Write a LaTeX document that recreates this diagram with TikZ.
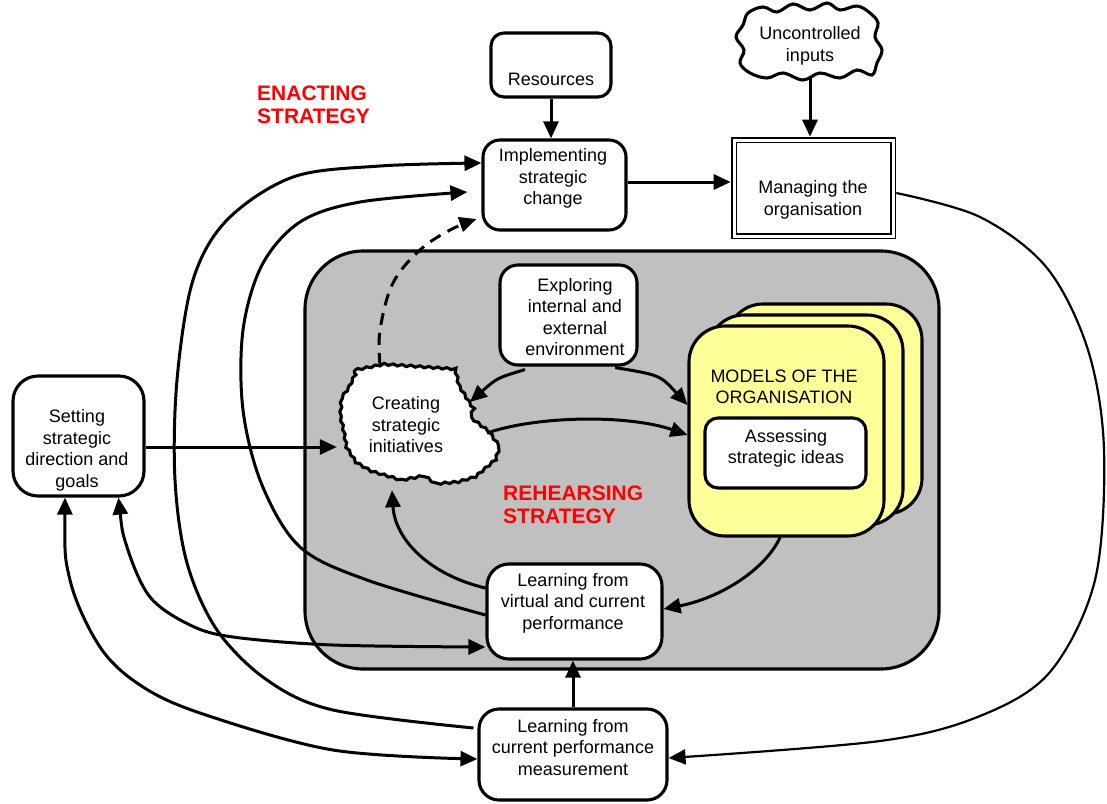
\documentclass[tikz,border=0pt]{standalone}
\usepackage{fontspec}
\setmainfont{Liberation Sans}
\usetikzlibrary{arrows.meta,decorations.pathmorphing}
\definecolor{greyfill}{RGB}{192,192,192}
\definecolor{cardyellow}{RGB}{255,255,153}
\begin{document}
\begin{tikzpicture}[x=1pt,y=-1pt,
  >={Triangle[length=17pt,width=15pt]},
  txt/.style={font=\fontsize{18}{21.5}\selectfont, align=center, inner sep=0pt},
  redlbl/.style={font=\bfseries\fontsize{21}{23}\selectfont, text=red, align=left, inner sep=0pt, anchor=west},
  boxsty/.style={draw, line width=3.1pt, fill=white, rectangle, inner sep=0pt},
  cardsty/.style={draw, line width=3.1pt, fill=cardyellow, rectangle, rounded corners=36pt, minimum width=195pt, minimum height=210pt, inner sep=0pt},
  conn/.style={line width=3pt, ->},
  cloudsty/.style={line width=3.1pt, fill=white},
]
\useasboundingbox (0,0) rectangle (1107,803);

% rehearsing area
\node[draw, line width=3.1pt, fill=greyfill, rounded corners=58pt, minimum width=634pt, minimum height=418pt, inner sep=0pt] (reh) at (622,460) {};

% models of the organisation (stack)
\node[cardsty] (mdl3) at (824.5,409) {};
\node[cardsty] (mdl2) at (805.5,420) {};
\node[cardsty] (mdl) at (786.5,431) {};
\node[txt] (mdlT) at (784,387) {MODELS OF THE\\ORGANISATION};
\node[boxsty, rounded corners=13pt, minimum width=161pt, minimum height=70pt] (ass) at (785.5,453) {};
\node[txt] (assT) at (786,448.5) {Assessing\\strategic ideas};

% boxes
\node[boxsty, rounded corners=13pt, minimum width=120pt, minimum height=64pt] (res) at (551,65) {};
\node[txt] (resT) at (551,79) {Resources};
\node[boxsty, rounded corners=17pt, minimum width=143pt, minimum height=90pt] (impl) at (554.5,185) {};
\node[txt] (implT) at (553,178.5) {Implementing\\strategic\\change};
\node[draw, fill=white, line width=1.8pt, double, double distance=3pt, minimum width=159pt, minimum height=96pt, outer sep=3.3pt, inner sep=0pt] (mng) at (813.5,188) {};
\node[txt] (mngT) at (813,200) {Managing the\\organisation};
\node[boxsty, rounded corners=25pt, minimum width=131pt, minimum height=120pt] (set) at (78.5,436) {};
\node[txt] (setT) at (77,450.5) {Setting\\strategic\\direction and\\goals};
\node[boxsty, rounded corners=18pt, minimum width=137pt, minimum height=100pt] (expl) at (568.5,315) {};
\node[txt] (explT) at (575,317) {Exploring\\internal and\\external\\environment};
\node[boxsty, rounded corners=22pt, minimum width=175pt, minimum height=95pt] (lv) at (574.5,611.5) {};
\node[txt] (lvT) at (573,603) {Learning from\\virtual and current\\performance};
\node[boxsty, rounded corners=20pt, minimum width=188pt, minimum height=91pt] (lc) at (573,754.5) {};
\node[txt] (lcT) at (573,747.5) {Learning from\\current performance\\measurement};

% uncontrolled inputs cloud
\node[minimum width=136pt, minimum height=70pt, inner sep=0pt] (unc) at (810,42) {};
\draw[cloudsty] plot[smooth cycle, tension=0.6] coordinates {
  (748,13) (763,7) (777,12) (793,4) (810,10) (827,3) (840,10) (857,6) (870,13)
  (878,23) (875,37) (882,50) (877,63) (872,75)
  (857,70) (840,78) (820,73) (803,80) (783,73) (767,78) (750,73)
  (740,63) (744,50) (736,37) (743,25)};
\node[txt] (uncT) at (810,46) {Uncontrolled\\inputs};

% creating strategic initiatives cloud
\node[minimum width=163pt, minimum height=123pt, inner sep=0pt] (cre) at (418.5,426.5) {};
\draw[cloudsty, decorate, decoration={snake, amplitude=0.9pt, segment length=9pt}]
  (355,370) -- (380,365) -- (453,370) -- (457,387) -- (467,403) -- (473,412) -- (470,420)
  -- (487,433) -- (497,447) -- (493,460) -- (473,477) -- (453,483) -- (430,485) -- (420,478)
  -- (400,482) -- (387,478) -- (370,473) -- (353,463) -- (343,447) -- (340,430) -- (337,417)
  -- (338,400) -- (347,387) -- cycle;
\node[txt] (creT) at (406,425) {Creating\\strategic\\initiatives};

% labels
\node[redlbl] (enact) at (257,104.5) {ENACTING\\STRATEGY};
\node[redlbl] (rehT) at (503,504.5) {REHEARSING\\STRATEGY};

% connectors
\draw[conn] (res.south) -- (res.south |- impl.north);
\draw[conn] (unc.south) -- (unc.south |- mng.north);
\draw[conn] ([yshift=3pt]impl.east) -- ([yshift=3pt]impl.east -| mng.west);
\draw[conn, line width=2.2pt] plot[smooth, tension=0.55] coordinates {([yshift=-5pt]mng.east) (980,217) (1047,268) (1088,350) (1104,450) (1095,580) (1050,672) (980,716) (880,741) ([yshift=-3.5pt]lc.east)};
\draw[conn] plot[smooth, tension=0.55] coordinates {([xshift=-4pt,yshift=26.5pt]lc.west) (333,710) (267,680) (217,630) (187,563) (175,480) (177,380) (193,280) (227,220) (293,177) (380,166) ([yshift=22pt]impl.west)};
\draw[conn] plot[smooth, tension=0.55] coordinates {([yshift=-3.5pt]lv.west) (367,580) (300,547) (262,485) (243,410) (243,330) (262,265) (300,222) (360,202) ([xshift=-14pt,yshift=-7pt]impl.west)};
\draw[conn, dash pattern=on 12pt off 8pt] plot[smooth, tension=0.6] coordinates {([xshift=-38.5pt]cre.north) (380,330) (393,283) (420,250) (450,230) ([xshift=-5pt,yshift=-34pt]impl.west)};
\draw[line width=3pt, <->] plot[smooth, tension=0.55] coordinates {([xshift=40pt]set.south) (127,547) (150,597) (190,625) (233,637) (333,645) ([yshift=-35.5pt]lv.west)};
\draw[line width=3pt, <->] plot[smooth, tension=0.55] coordinates {([xshift=-13.5pt]set.south) (70,580) (100,647) (140,685) (200,713) (333,750) ([yshift=-4.5pt]lc.west)};
\draw[conn] ([yshift=-11pt]set.east) -- ([yshift=-11pt]set.east -| cre.west);
\draw[conn] ([yshift=23.5pt]lv.west) .. controls (430,575) and (395,540) .. ([xshift=-26.5pt,yshift=-2pt]cre.south);
\draw[conn] ([xshift=-43.5pt,yshift=-3pt]expl.south) .. controls (497,378) .. ([xshift=51.5pt,yshift=24.5pt]cre.center);
\draw[conn] ([xshift=46.5pt,yshift=-1pt]expl.south) .. controls (660,375) .. ([yshift=26pt]mdl.west);
\draw[conn] ([xshift=68.5pt,yshift=-6.5pt]cre.center) .. controls (540,415) and (630,415) .. ([yshift=-4pt]mdl.west);
\draw[conn] ([xshift=-6.5pt]mdl.south) .. controls (765,570) and (720,598) .. ([yshift=2.5pt]lv.east);
\draw[conn] (lc.north) -- (lc.north |- lv.south);
\end{tikzpicture}
\end{document}
